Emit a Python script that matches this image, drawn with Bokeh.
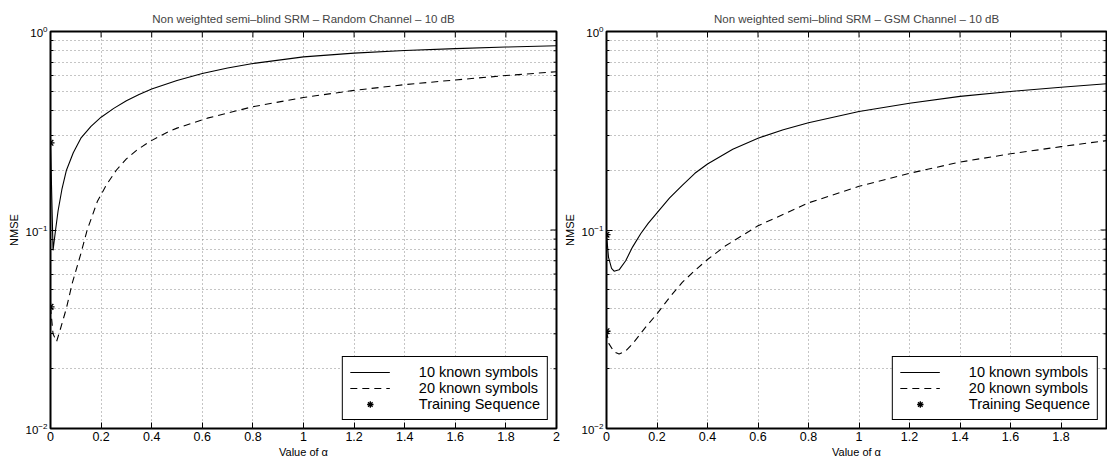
import math
from bokeh.plotting import figure
from bokeh.layouts import row
from bokeh.models import Range1d, FixedTicker
from bokeh.embed import file_html
from bokeh.resources import INLINE

# ---------------- data ----------------
x_ticks = [0, 0.2, 0.4, 0.6, 0.8, 1.0, 1.2, 1.4, 1.6, 1.8, 2.0]
x_tick_labels = {0: "0", 1: "1", 2: "2"}
y_major = [0.01, 0.1, 1.0]
y_minor = [0.02, 0.03, 0.04, 0.05, 0.06, 0.07, 0.08, 0.09,
           0.2, 0.3, 0.4, 0.5, 0.6, 0.7, 0.8, 0.9]

series_names = ["10 known symbols", "20 known symbols", "Training Sequence"]

# Left panel: Random channel
rand_alpha_10 = [0, 0.01, 0.02, 0.03, 0.045, 0.063, 0.09, 0.12, 0.16, 0.2, 0.25, 0.3,
                 0.35, 0.4, 0.5, 0.6, 0.7, 0.8, 1.0, 1.2, 1.4, 1.6, 1.8, 2.0]
rand_nmse_10 = [0.275, 0.079, 0.1, 0.125, 0.16, 0.2, 0.245, 0.29, 0.333, 0.37, 0.41, 0.448,
                0.482, 0.513, 0.567, 0.614, 0.655, 0.69, 0.745, 0.778, 0.802, 0.82, 0.835, 0.848]
rand_alpha_20 = [0, 0.01, 0.024, 0.04, 0.063, 0.086, 0.12, 0.145, 0.185, 0.22, 0.26, 0.3,
                 0.34, 0.39, 0.46, 0.5, 0.62, 0.8, 1.0, 1.2, 1.4, 1.6, 1.8, 2.0]
rand_nmse_20 = [0.041, 0.03, 0.0274, 0.032, 0.0404, 0.054, 0.076, 0.1, 0.139, 0.168, 0.2, 0.228,
                0.252, 0.278, 0.31, 0.326, 0.366, 0.418, 0.465, 0.505, 0.54, 0.57, 0.6, 0.627]
rand_train_alpha = [0, 0]
rand_train_nmse = [0.275, 0.041]

# Right panel: GSM channel
gsm_alpha_10 = [0, 0.008, 0.02, 0.03, 0.05, 0.076, 0.103, 0.136, 0.165, 0.2, 0.25, 0.3, 0.35,
                0.4, 0.5, 0.6, 0.7, 0.8, 1.0, 1.2, 1.4, 1.6, 1.8, 1.98]
gsm_nmse_10 = [0.0947, 0.0728, 0.064, 0.062, 0.063, 0.07, 0.082, 0.096, 0.108, 0.122, 0.145,
               0.168, 0.193, 0.215, 0.255, 0.29, 0.32, 0.347, 0.395, 0.435, 0.471, 0.499,
               0.524, 0.545]
gsm_alpha_20 = [0, 0.01, 0.03, 0.05, 0.075, 0.103, 0.155, 0.2, 0.25, 0.3, 0.35, 0.4, 0.47,
                0.6, 0.8, 1.0, 1.2, 1.4, 1.6, 1.8, 1.98]
gsm_nmse_20 = [0.0309, 0.0267, 0.0243, 0.0237, 0.0245, 0.0267, 0.0324, 0.0378, 0.0458, 0.0545,
               0.0625, 0.071, 0.083, 0.105, 0.137, 0.166, 0.193, 0.22, 0.242, 0.263, 0.282]
gsm_train_alpha = [0, 0]
gsm_train_nmse = [0.0947, 0.0309]

FONT = "Liberation Sans"
GRID = "#8a8a8a"


def panel(title, width, border_left, border_right, xmax,
          a10, n10, a20, n20, ta, tn):
    p = figure(width=width, height=460, x_range=Range1d(0, xmax),
               y_range=Range1d(0.01, 1.0), y_axis_type="log",
               output_backend="svg", toolbar_location=None,
               min_border_left=border_left, min_border_right=border_right,
               min_border_top=31, min_border_bottom=32, title=title)
    p.title.text_font = FONT
    p.title.text_font_size = "11.5px"
    p.title.text_font_style = "normal"
    p.title.align = "center"
    p.title.standoff = 13
    p.outline_line_color = "black"
    p.outline_line_width = 2
    p.outline_line_alpha = 1

    xt = FixedTicker(ticks=x_ticks)
    yt = FixedTicker(ticks=y_major, minor_ticks=y_minor)

    xa = p.xaxis[0]
    xa.ticker = xt
    xa.major_label_overrides = x_tick_labels
    xa.axis_label = "Value of α"
    ya = p.yaxis[0]
    ya.ticker = yt
    ya.axis_label = "NMSE"
    for ax in (xa, ya):
        ax.axis_line_color = None
        ax.major_tick_in = 6
        ax.major_tick_out = 0
        ax.minor_tick_in = 3
        ax.minor_tick_out = 0
        ax.major_tick_line_color = "black"
        ax.minor_tick_line_color = "black"
        ax.major_label_text_font = FONT
        ax.major_label_text_font_size = "12.5px"
        ax.major_label_text_color = "black"
        ax.axis_label_text_font = FONT
        ax.axis_label_text_font_size = "11px"
        ax.axis_label_text_font_style = "normal"
        ax.axis_label_text_color = "black"
        ax.major_label_standoff = 3
        ax.axis_label_standoff = 2
    xa.minor_tick_line_color = None
    ya.major_label_text_font_size = "11.5px"
    ya.axis_label_standoff = 3

    p.xgrid[0].ticker = xt
    p.ygrid[0].ticker = yt
    p.xgrid.grid_line_color = GRID
    p.xgrid.grid_line_dash = "1 3"
    p.ygrid.grid_line_color = GRID
    p.ygrid.grid_line_dash = "1 3"
    p.ygrid.minor_grid_line_color = GRID
    p.ygrid.minor_grid_line_dash = "1 3"

    # inward ticks on the top and right edges of the box
    top_x = [t for t in x_ticks if t <= xmax]
    p.ray(x=top_x, y=[y_major[-1]] * len(top_x), length=6, length_units="screen",
          angle=-math.pi / 2, line_color="black", line_width=1)
    p.ray(x=[xmax] * len(y_major), y=y_major, length=6, length_units="screen",
          angle=math.pi, line_color="black", line_width=1)
    p.ray(x=[xmax] * len(y_minor), y=y_minor, length=3, length_units="screen",
          angle=math.pi, line_color="black", line_width=1)

    p.line(a10, n10, line_color="black", line_width=1.1, legend_label=series_names[0])
    p.line(a20, n20, line_color="black", line_width=1.1, line_dash="7 5",
           legend_label=series_names[1])
    p.scatter(ta, tn, marker="asterisk", size=8, line_color="black", line_width=1.3,
              legend_label=series_names[2])

    lg = p.legend[0]
    lg.location = "bottom_right"
    lg.margin = 8
    lg.padding = 7
    lg.spacing = 0
    lg.label_text_font = FONT
    lg.label_text_font_size = "14.5px"
    lg.label_text_color = "black"
    lg.label_height = 16
    lg.glyph_height = 16
    lg.glyph_width = 40
    lg.label_standoff = 29
    lg.border_line_color = "black"
    lg.border_line_width = 1.5
    lg.border_line_alpha = 1
    lg.background_fill_alpha = 1
    return p


left = panel("Non weighted semi–blind SRM – Random Channel – 10 dB", 560, 50, 4, 2.0,
             rand_alpha_10, rand_nmse_10, rand_alpha_20, rand_nmse_20,
             rand_train_alpha, rand_train_nmse)
right = panel("Non weighted semi–blind SRM – GSM Channel – 10 dB", 547, 44, 1, 1.98,
              gsm_alpha_10, gsm_nmse_10, gsm_alpha_20, gsm_nmse_20,
              gsm_train_alpha, gsm_train_nmse)

layout = row(left, right)
open("out.html", "w").write(file_html(layout, INLINE))
